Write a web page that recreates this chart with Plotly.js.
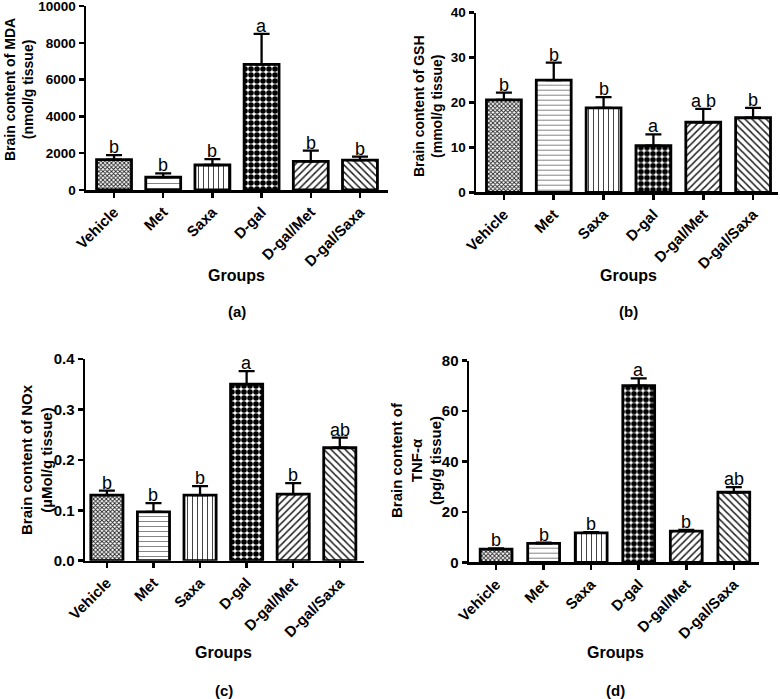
<!DOCTYPE html>
<html>
<head>
<meta charset="utf-8">
<script src="https://cdn.plot.ly/plotly-3.0.1.min.js"></script>
<style>html,body{margin:0;padding:0;background:#fff}</style>
</head>
<body>
<div id="chart" style="width:780px;height:699px"></div>
<script>
const groups = ["Vehicle", "Met", "Saxa", "D-gal", "D-gal/Met", "D-gal/Saxa"];

const mdaMean = [1650, 700, 1360, 6830, 1560, 1620];
const mdaSem  = [250, 200, 320, 1650, 580, 190];
const mdaLetters = ["b", "b", "b", "a", "b", "b"];

const gshMean = [20.6, 25.0, 18.8, 10.4, 15.6, 16.6];
const gshSem  = [1.6, 3.9, 2.4, 2.5, 3.0, 2.2];
const gshLetters = ["b", "b", "b", "a", "a b", "b"];

const noxMean = [0.130, 0.097, 0.130, 0.350, 0.132, 0.224];
const noxSem  = [0.009, 0.017, 0.018, 0.026, 0.022, 0.020];
const noxLetters = ["b", "b", "b", "a", "b", "ab"];

const tnfMean = [5.2, 7.5, 11.7, 70.1, 12.4, 27.8];
const tnfSem  = [0.3, 0.3, 0.3, 2.9, 0.5, 2.0];
const tnfLetters = ["b", "b", "b", "a", "b", "ab"];

const FONT = "Arial, 'Liberation Sans', sans-serif";
const shapes = ["x", "-", "|", ".", "/", "\\"];
const fg = ["#222", "#777", "#444", "#000", "#222", "#222"];
const psize = [3, 5, 5, 6, 5, 5];
const psol = [0.5, 0.18, 0.2, 0.68, 0.3, 0.3];

function barTrace(mean, sem, xa, ya, width) {
  return {
    type: "bar", x: groups, y: mean, xaxis: xa, yaxis: ya,
    width: width,
    marker: {
      color: "#fff",
      line: {color: "#000", width: 2.8},
      pattern: {shape: shapes, fgcolor: fg, bgcolor: "#fff", size: psize, solidity: psol, fillmode: "replace"}
    },
    error_y: {type: "data", array: sem, arrayminus: sem.map(() => 0), symmetric: false,
              color: "#000", thickness: 2.3, width: 8},
    showlegend: false, hoverinfo: "skip"
  };
}

const data = [
  barTrace(mdaMean, mdaSem, "x", "y", 0.71),
  barTrace(gshMean, gshSem, "x2", "y2", 0.7),
  barTrace(noxMean, noxSem, "x3", "y3", 0.69),
  barTrace(tnfMean, tnfSem, "x4", "y4", 0.67)
];

function xAxis(domain, range, anchor) {
  return {
    domain: domain, range: range, anchor: anchor, type: "category",
    showline: true, linecolor: "#000", linewidth: 2.5,
    ticks: "outside", ticklen: 5, tickwidth: 2.5, tickcolor: "#000",
    tickangle: -45, showgrid: false, zeroline: false, fixedrange: true,
    tickfont: {family: FONT, size: 15, color: "#000", weight: 700}
  };
}
function yAxis(domain, range, dtick, anchor, fmt, fs) {
  return {
    domain: domain, range: range, anchor: anchor, dtick: dtick, tick0: 0,
    tickformat: fmt, ticklabeloverflow: "allow",
    showline: true, linecolor: "#000", linewidth: 2.5,
    ticks: "outside", ticklen: 5, tickwidth: 2.5, tickcolor: "#000",
    showgrid: false, zeroline: false, fixedrange: true,
    tickfont: {family: FONT, size: fs, color: "#000", weight: 700}
  };
}

const annotations = [];
function letters(mean, sem, lets, xa, ya) {
  lets.forEach((t, i) => {
    annotations.push({
      xref: xa, yref: ya, x: groups[i], y: mean[i] + sem[i], text: t,
      showarrow: false, yanchor: "bottom", yshift: -4,
      font: {family: FONT, size: 18, color: "#000"}
    });
  });
}
letters(mdaMean, mdaSem, mdaLetters, "x", "y");
letters(gshMean, gshSem, gshLetters, "x2", "y2");
letters(noxMean, noxSem, noxLetters, "x3", "y3");
letters(tnfMean, tnfSem, tnfLetters, "x4", "y4");

function ptext(text, x, y, size, angle) {
  annotations.push({
    xref: "paper", yref: "paper", x: x / 780, y: 1 - y / 699, text: text,
    showarrow: false, xanchor: "center", yanchor: "middle", textangle: angle || 0,
    font: {family: FONT, size: size, color: "#000", weight: 700}
  });
}
ptext("Brain content of MDA<br>(nmol/g tissue)", 19, 90, 14, -90);
ptext("Brain content of GSH<br>(mmol/g tissue)", 428, 106, 14, -90);
ptext("Brain content of NOx<br>(µMol/g tissue)", 36, 460, 15, -90);
ptext("Brain content of<br>TNF-α<br>(pg/g tissue)", 416, 460, 15, -90);

ptext("Groups", 237, 275, 16);
ptext("Groups", 628, 275, 16);
ptext("Groups", 224, 652, 16);
ptext("Groups", 615, 652, 16);
ptext("(a)", 237, 311, 15);
ptext("(b)", 628, 311, 15);
ptext("(c)", 224, 690, 15);
ptext("(d)", 615, 690, 15);

const W = 780, H = 699;
const dx = (a, b) => [a / W, b / W];
const dy = (top, bot) => [1 - bot / H, 1 - top / H];

const layout = {
  width: W, height: H, autosize: false,
  margin: {l: 0, r: 0, t: 0, b: 0},
  paper_bgcolor: "#fff", plot_bgcolor: "#fff",
  bargap: 0.3,
  xaxis: xAxis(dx(86, 388), [-0.57, 5.57], "y"),
  yaxis: yAxis(dy(6, 190), [0, 10000], 2000, "x", "d", 13.5),
  xaxis2: xAxis(dx(476, 778), [-0.56, 5.5], "y2"),
  yaxis2: yAxis(dy(12.7, 192.3), [0, 40], 10, "x2", "d", 13.5),
  xaxis3: xAxis(dx(85, 364), [-0.47, 5.52], "y3"),
  yaxis3: yAxis(dy(359, 560.7), [0, 0.4], 0.1, "x3", ".1f", 15),
  xaxis4: xAxis(dx(469, 759), [-0.57, 5.53], "y4"),
  yaxis4: yAxis(dy(360.7, 562.3), [0, 80], 20, "x4", "d", 15),
  annotations: annotations
};

Plotly.newPlot("chart", data, layout, {displayModeBar: false, staticPlot: true});
</script>
</body>
</html>
